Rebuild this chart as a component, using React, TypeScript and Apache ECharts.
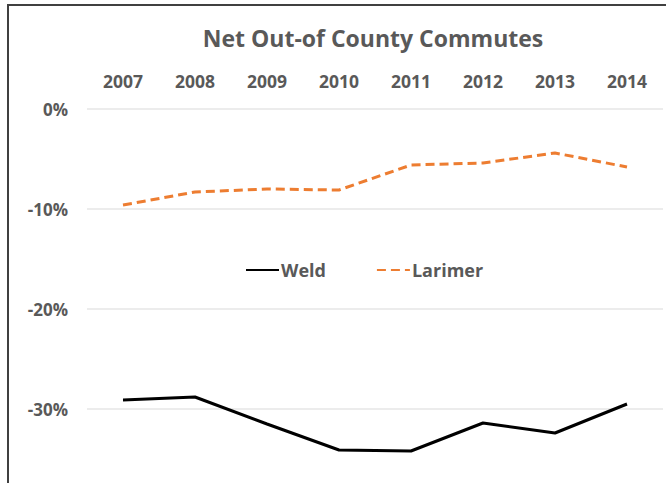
import React, { useEffect, useRef } from "react";
import * as echarts from "echarts";

const years = ["2007", "2008", "2009", "2010", "2011", "2012", "2013", "2014"];
const weld = [-29.1, -28.8, -31.5, -34.1, -34.2, -31.4, -32.4, -29.5];
const larimer = [-9.6, -8.3, -8.0, -8.1, -5.6, -5.4, -4.4, -5.8];
const yTicks = [0, -10, -20, -30, -40];

const GRAY = "#595959";
const FONT = "'Open Sans', 'Liberation Sans', sans-serif";

export default function App() {
  const ref = useRef<HTMLDivElement>(null);
  useEffect(() => {
    document.body.style.margin = "0";
    const chart = echarts.init(ref.current!, undefined, { renderer: "svg" });
    chart.setOption({
      animation: false,
      backgroundColor: "#ffffff",
      title: {
        text: "Net Out-of County Commutes",
        left: 368,
        textAlign: "center",
        top: 21,
        textStyle: { color: GRAY, fontFamily: FONT, fontSize: 23, fontWeight: "bold" },
      },
      legend: {
        left: 240,
        top: 256,
        itemWidth: 33,
        itemHeight: 10,
        itemGap: 50,
        itemStyle: { opacity: 0 },
        textStyle: { color: GRAY, fontFamily: FONT, fontSize: 18, fontWeight: "bold", padding: [0, 0, 0, -3] },
        data: ["Weld", "Larimer"],
      },
      grid: { left: 87, right: 3, top: 109, bottom: 11 },
      xAxis: {
        type: "category",
        position: "top",
        data: years,
        boundaryGap: true,
        axisLine: { show: false },
        axisTick: { show: false },
        axisLabel: { color: GRAY, fontFamily: FONT, fontSize: 17.5, fontWeight: "bold", margin: 19 },
        splitLine: { show: false },
      },
      yAxis: {
        type: "value",
        min: yTicks[yTicks.length - 1],
        max: yTicks[0],
        interval: 10,
        axisLine: { show: false },
        axisTick: { show: false },
        axisLabel: {
          color: GRAY,
          fontFamily: FONT,
          fontSize: 17,
          fontWeight: "bold",
          margin: 19,
          showMinLabel: false,
          formatter: (v: number) => `${v}%`,
        },
        splitLine: { lineStyle: { color: "#ececec", width: 2 } },
      },
      series: [
        {
          name: "Weld",
          type: "line",
          data: weld,
          symbol: "none",
          lineStyle: { color: "#000000", width: 3 },
          itemStyle: { color: "#000000" },
        },
        {
          name: "Larimer",
          type: "line",
          data: larimer,
          symbol: "none",
          lineStyle: { color: "#ED7D31", width: 3, type: [9, 5] },
          itemStyle: { color: "#ED7D31" },
        },
      ],
      graphic: [
        {
          type: "rect",
          shape: { x: 8, y: 5, width: 720, height: 600 },
          style: { fill: "none", stroke: "#404040", lineWidth: 2 },
          silent: true,
        },
      ],
    });
    return () => chart.dispose();
  }, []);
  return (
    <div
      ref={ref}
      style={{ position: "fixed", left: 0, top: 0, width: 666, height: 520 }}
    />
  );
}
